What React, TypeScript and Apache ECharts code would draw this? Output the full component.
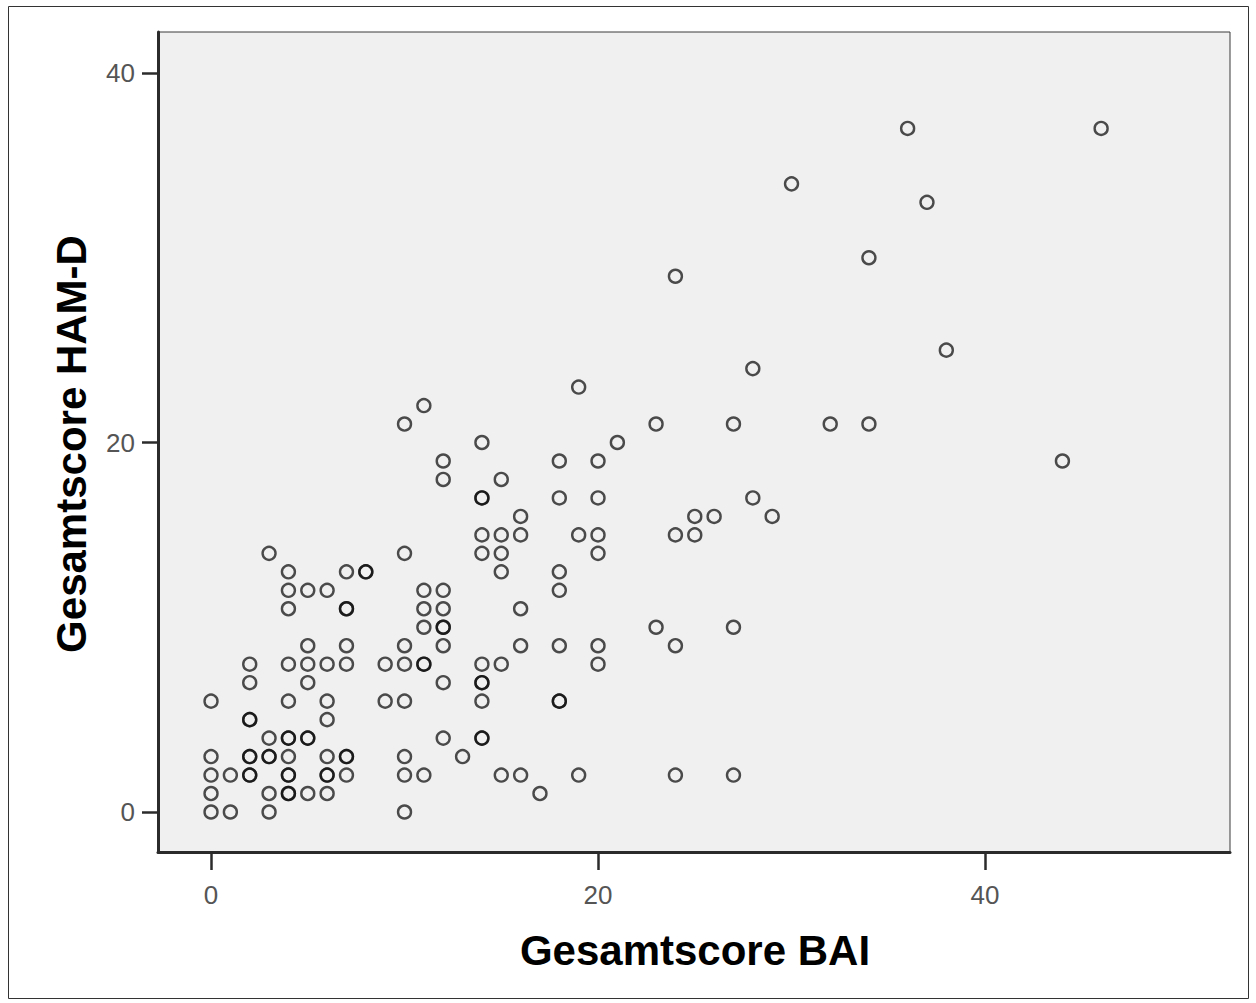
import React, { useEffect, useRef } from "react";
import * as echarts from "echarts";

// Beck Anxiety Inventory total per patient (x)
const baiScores = [
  36, 46,
  30,
  37,
  34,
  24,
  38,
  28,
  19,
  11,
  10, 23, 27, 32, 34,
  14, 21,
  12, 18, 20, 44,
  12, 15,
  14, 14, 18, 20, 28,
  16, 25, 26, 29,
  14, 15, 16, 19, 20, 24, 25,
  3, 10, 14, 15, 20,
  4, 7, 8, 8, 15, 18,
  4, 5, 6, 11, 12, 18,
  4, 7, 7, 11, 12, 16,
  11, 12, 12, 23, 27,
  5, 7, 10, 12, 16, 18, 20, 24,
  2, 4, 5, 6, 7, 9, 10, 11, 11, 14, 15, 20,
  2, 5, 12, 14, 14,
  0, 4, 6, 9, 10, 14, 18, 18,
  2, 2, 6,
  3, 4, 4, 5, 5, 12, 14, 14,
  0, 2, 2, 3, 3, 4, 6, 7, 7, 10, 13,
  0, 1, 2, 2, 4, 4, 6, 6, 7, 10, 11, 15, 16, 19, 24, 27,
  0, 3, 4, 4, 5, 6, 17,
  0, 1, 3, 10,
];

// Hamilton Depression Rating Scale total per patient (y), same order
const hamdScores = [
  37, 37,
  34,
  33,
  30,
  29,
  25,
  24,
  23,
  22,
  21, 21, 21, 21, 21,
  20, 20,
  19, 19, 19, 19,
  18, 18,
  17, 17, 17, 17, 17,
  16, 16, 16, 16,
  15, 15, 15, 15, 15, 15, 15,
  14, 14, 14, 14, 14,
  13, 13, 13, 13, 13, 13,
  12, 12, 12, 12, 12, 12,
  11, 11, 11, 11, 11, 11,
  10, 10, 10, 10, 10,
  9, 9, 9, 9, 9, 9, 9, 9,
  8, 8, 8, 8, 8, 8, 8, 8, 8, 8, 8, 8,
  7, 7, 7, 7, 7,
  6, 6, 6, 6, 6, 6, 6, 6,
  5, 5, 5,
  4, 4, 4, 4, 4, 4, 4, 4,
  3, 3, 3, 3, 3, 3, 3, 3, 3, 3, 3,
  2, 2, 2, 2, 2, 2, 2, 2, 2, 2, 2, 2, 2, 2, 2, 2,
  1, 1, 1, 1, 1, 1, 1,
  0, 0, 0, 0,
];

const xTicks = [0, 20, 40];
const yTicks = [0, 20, 40];
const xTitle = "Gesamtscore BAI";
const yTitle = "Gesamtscore HAM-D";

const FONT = '"Liberation Sans", Arial, Helvetica, sans-serif';

export default function App() {
  const ref = useRef<HTMLDivElement>(null);

  useEffect(() => {
    if (!ref.current) return;
    const chart = echarts.init(ref.current, null, { renderer: "svg" });
    const points = baiScores.map((x, i) => [x, hamdScores[i]]);

    const axisLineStyle = { color: "#2b2b2b", width: 3 };
    const tickStyle = { color: "#2b2b2b", width: 2.5 };
    const labelStyle = {
      fontFamily: FONT,
      fontSize: 26,
      color: "#555555",
    };

    chart.setOption({
      animation: false,
      backgroundColor: "#ffffff",
      grid: {
        left: 158,
        top: 32,
        right: 26,
        bottom: 151,
        show: true,
        backgroundColor: "#f0f0f0",
        borderColor: "#3a3a3a",
        borderWidth: 1,
      },
      xAxis: {
        type: "value",
        min: -2.74,
        max: 52.66,
        axisLine: { show: true, onZero: false, lineStyle: axisLineStyle },
        axisTick: {
          show: true,
          customValues: xTicks,
          length: 18,
          lineStyle: tickStyle,
        },
        axisLabel: { customValues: xTicks, margin: 30, ...labelStyle },
        splitLine: { show: false },
      },
      yAxis: {
        type: "value",
        min: -2.165,
        max: 42.22,
        axisLine: { show: true, onZero: false, lineStyle: axisLineStyle },
        axisTick: {
          show: true,
          customValues: yTicks,
          length: 16,
          lineStyle: tickStyle,
        },
        axisLabel: { customValues: yTicks, margin: 23, ...labelStyle },
        splitLine: { show: false },
      },
      graphic: [
        {
          type: "rect",
          silent: true,
          shape: { x: 8.5, y: 6.5, width: 1240, height: 992 },
          style: { fill: "none", stroke: "#333333", lineWidth: 1 },
        },
        {
          type: "text",
          x: 695,
          y: 950,
          silent: true,
          style: {
            text: xTitle,
            fontFamily: FONT,
            fontWeight: "bold",
            fontSize: 42,
            fill: "#000000",
            align: "center",
            verticalAlign: "middle",
          },
        },
        {
          type: "text",
          x: 71,
          y: 444,
          rotation: Math.PI / 2,
          silent: true,
          style: {
            text: yTitle,
            fontFamily: FONT,
            fontWeight: "bold",
            fontSize: 42,
            fill: "#000000",
            align: "center",
            verticalAlign: "middle",
          },
        },
      ],
      series: [
        {
          type: "scatter",
          data: points,
          symbol: "circle",
          symbolSize: 13,
          itemStyle: {
            color: "rgba(0,0,0,0)",
            borderColor: "rgba(10,10,10,0.9)",
            borderWidth: 2.4,
          },
          emphasis: { disabled: true },
        },
      ],
    });

    return () => chart.dispose();
  }, []);

  return (
    <div
      ref={ref}
      style={{ position: "absolute", left: 0, top: 0, width: 1256, height: 1003 }}
    />
  );
}
